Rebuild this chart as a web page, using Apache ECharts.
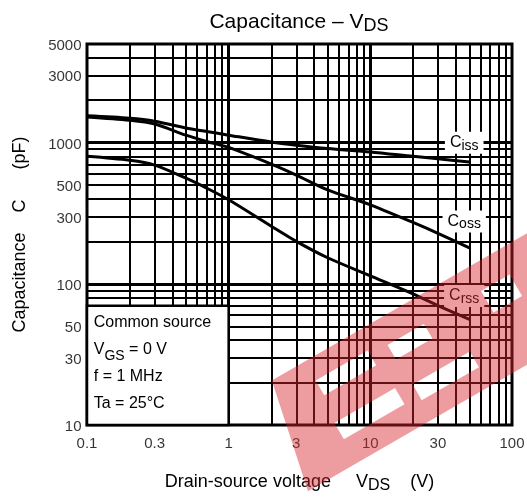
<!DOCTYPE html>
<html><head><meta charset="utf-8">
<script src="https://cdn.jsdelivr.net/npm/echarts@6/dist/echarts.min.js"></script>
<style>html,body{margin:0;padding:0;background:#fff}#c{width:527px;height:499px}</style>
</head><body><div id="c"></div><script>
// ---- data ----
const vds  = [0.1, 0.2, 0.3, 0.5, 0.7, 1, 2, 3, 5, 10, 20, 30, 50];
const ciss = [1550, 1490, 1420, 1270, 1200, 1130, 1010, 960, 910, 860, 800, 768, 730];
const coss = [1520, 1440, 1355, 1130, 1020, 925, 705, 590, 463, 363, 272, 228, 180];
const crss = [800, 750, 694, 560, 476, 394, 256, 200, 153, 114, 85, 70, 56];
const xTicks = [0.1, 0.3, 1, 3, 10, 30, 100];
const yTicks = [10, 30, 50, 100, 300, 500, 1000, 3000, 5000];
const xGrid = [0.2,0.3,0.4,0.5,0.6,0.7,0.8,0.9,1,2,3,4,5,6,7,8,9,10,20,30,40,50,60,70,80,90];
const yGrid = [20,30,40,50,60,70,80,90,100,200,300,400,500,600,700,800,900,1000,2000,3000,4000];
const xMajor = [1, 10];
const yMajor = [100, 1000];
const curveNames = ['iss', 'oss', 'rss'];
const curveLabelV = [46, 46, 46];
const curveLabelC = [1000, 276, 82];
const xMin = 0.1, xMax = 100, yMin = 10, yMax = 5000;
const boxCorner = [[0.1, 70], [1, 10]];

const F = '"Liberation Sans", Arial, Helvetica, sans-serif';
const chart = echarts.init(document.getElementById('c'), null, {renderer: 'canvas'});

// watermark geometry (decoration)
const wmO = [290, 370], th = 30 * Math.PI / 180;
function wp(u, v) { return [wmO[0] + u * Math.cos(th) + v * Math.sin(th), wmO[1] - u * Math.sin(th) + v * Math.cos(th)]; }
const wmOuter = [[-21, 0], [330, 0], [330, 114], [-45, 114]];
const wmHoles = [[17, 77, 22, 39], [12, 82, 68, 87], [97, 139, 27, 44], [99, 165, 74, 92], [205, 238, 27, 52]];
const wmPts = wmOuter.map(p => wp(p[0], p[1]));
wmPts.push(wp(-21, 0));
wmHoles.forEach(h => {
  wmPts.push(wp(h[0], h[2])); wmPts.push(wp(h[0], h[3])); wmPts.push(wp(h[1], h[3]));
  wmPts.push(wp(h[1], h[2])); wmPts.push(wp(h[0], h[2])); wmPts.push(wp(-21, 0));
});

const curveStyle = {type: 'line', symbol: 'none', smooth: 0.3, z: 4, lineStyle: {color: '#000', width: 3}};

const option = {
  animation: false,
  backgroundColor: '#fff',
  title: {
    text: '{a|Capacitance – V}{s|DS}',
    left: 294, top: 4, textAlign: 'center',
    textStyle: {fontWeight: 'normal', rich: {
      a: {fontSize: 21, fontFamily: F, fontWeight: 'normal', color: '#000', lineHeight: 26},
      s: {fontSize: 18, fontFamily: F, fontWeight: 'normal', color: '#000', lineHeight: 16, verticalAlign: 'bottom'}
    }}
  },
  grid: {left: 86, top: 44, width: 426, height: 383, show: true, borderColor: '#000', borderWidth: 3, backgroundColor: 'transparent'},
  xAxis: {
    type: 'log', logBase: 10, min: xMin, max: xMax,
    axisLine: {show: false}, axisTick: {show: false}, axisLabel: {show: false}, splitLine: {show: false},
    name: '{a|Drain-source voltage     V}{s|DS}{a|    (V)}', nameLocation: 'middle', nameGap: 45,
    nameTextStyle: {rich: {
      a: {fontSize: 18, fontFamily: F, color: '#000', lineHeight: 24},
      s: {fontSize: 16, fontFamily: F, color: '#000', lineHeight: 14, verticalAlign: 'bottom'}
    }}
  },
  yAxis: {
    type: 'log', logBase: 10, min: yMin, max: yMax,
    axisLine: {show: false}, axisTick: {show: false}, axisLabel: {show: false}, splitLine: {show: false},
    name: 'Capacitance    C      (pF)', nameLocation: 'middle', nameGap: 55,
    nameTextStyle: {fontSize: 18, fontFamily: F, color: '#000', lineHeight: 24}
  },
  graphic: {elements: [{
    type: 'polygon', z: 100, silent: true,
    shape: {points: wmPts},
    style: {fill: 'rgba(215,35,45,0.45)'}
  }]},
  series: [
    {
      type: 'line', data: [[xMin, yMin]], symbol: 'none', z: 1, lineStyle: {width: 0},
      markLine: {
        z: 2, silent: true, symbol: ['none', 'none'], label: {show: false}, animation: false,
        lineStyle: {color: '#000', type: 'solid', width: 2},
        data: [
          ...xGrid.map(v => ({xAxis: v, lineStyle: {color: '#000', type: 'solid', width: xMajor.includes(v) ? 3 : 2}})),
          ...yGrid.map(v => ({yAxis: v, lineStyle: {color: '#000', type: 'solid', width: yMajor.includes(v) ? 3 : 2}}))
        ]
      }
    },
    {
      type: 'line', data: [[xMin, yMin]], symbol: 'none', z: 3, lineStyle: {width: 0},
      markArea: {
        z: 6, silent: true,
        itemStyle: {color: '#fff', borderColor: '#000', borderWidth: 2.5},
        label: {
          show: true, position: 'insideTopLeft', distance: 0, padding: [5, 0, 0, 8],
          formatter: '{a|Common source}\n{a|V}{s|GS}{a| = 0 V}\n{a|f = 1 MHz}\n{a|Ta = 25°C}',
          rich: {
            a: {fontSize: 16, fontFamily: F, color: '#000', lineHeight: 27},
            s: {fontSize: 14, fontFamily: F, color: '#000', lineHeight: 19, verticalAlign: 'bottom'}
          }
        },
        data: [[{coord: boxCorner[0]}, {coord: boxCorner[1]}]]
      }
    },
    Object.assign({}, curveStyle, {name: 'Ciss', data: vds.map((v, i) => [v, ciss[i]])}),
    Object.assign({}, curveStyle, {name: 'Coss', data: vds.map((v, i) => [v, coss[i]])}),
    Object.assign({}, curveStyle, {name: 'Crss', data: vds.map((v, i) => [v, crss[i]])}),
    {
      type: 'scatter', z: 7, symbolSize: 1, itemStyle: {color: 'rgba(0,0,0,0)'},
      data: curveNames.map((n, i) => ({name: n, value: [curveLabelV[i], curveLabelC[i]]})),
      label: {
        show: true, position: 'inside', backgroundColor: '#fff', padding: [1, 5, 1, 5],
        color: '#000', opacity: 1, textBorderWidth: 0, textShadowBlur: 0,
        formatter: p => '{c|C}{s|' + p.name + '}',
        rich: {
          c: {fontSize: 16, fontFamily: F, color: '#000', lineHeight: 20, textBorderWidth: 0},
          s: {fontSize: 14, fontFamily: F, color: '#000', lineHeight: 12, verticalAlign: 'bottom', textBorderWidth: 0}
        }
      }
    },
    {
      type: 'scatter', z: 5, symbolSize: 1, itemStyle: {color: 'rgba(0,0,0,0)'},
      data: yTicks.map(c => [xMin, c]),
      label: {show: true, position: 'left', distance: 5, offset: [0, 2], fontSize: 15, fontFamily: F, color: '#000',
        formatter: p => String(p.value[1])}
    },
    {
      type: 'scatter', z: 5, symbolSize: 1, itemStyle: {color: 'rgba(0,0,0,0)'},
      data: xTicks.map(v => [v, yMin]),
      label: {show: true, position: 'bottom', distance: 11, fontSize: 15, fontFamily: F, color: '#000',
        formatter: p => String(p.value[0])}
    }
  ]
};
chart.setOption(option);
</script></body></html>
